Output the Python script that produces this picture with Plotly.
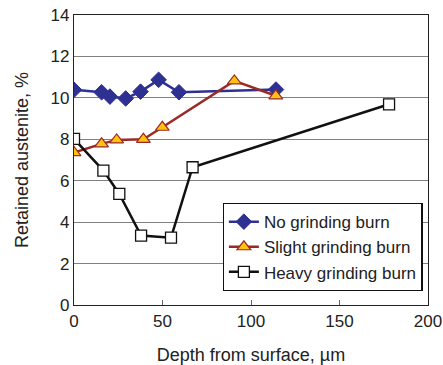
import plotly.graph_objects as go

no_x = [0, 15.6, 20.3, 29.2, 37.6, 47.8, 59.3, 114.1]
no_y = [10.39, 10.27, 10.06, 9.97, 10.3, 10.87, 10.27, 10.4]
sl_x = [0, 15.6, 24.1, 39.2, 49.9, 90.6, 114]
sl_y = [7.36, 7.78, 7.97, 8.0, 8.58, 10.82, 10.1]
hv_x = [0, 16.6, 25.6, 37.9, 54.8, 67, 178]
hv_y = [8.02, 6.49, 5.36, 3.35, 3.25, 6.65, 9.69]

x_ticks = [0, 50, 100, 150, 200]
y_ticks = [0, 2, 4, 6, 8, 10, 12, 14]

font = "Liberation Sans, Arial, sans-serif"
fig = go.Figure()
fig.add_trace(go.Scatter(x=no_x, y=no_y, mode="lines+markers", name="No grinding burn",
                         line=dict(color="#2E3192", width=2.5),
                         marker=dict(symbol="diamond", size=12, color="#2E3192",
                                     line=dict(color="#2E3192", width=1))))
fig.add_trace(go.Scatter(x=sl_x, y=sl_y, mode="lines+markers", name="Slight grinding burn",
                         line=dict(color="#9B2A26", width=2.5),
                         marker=dict(symbol="triangle-up", size=12, color="#FFC20E",
                                     line=dict(color="#9B2A26", width=1.2))))
fig.add_trace(go.Scatter(x=hv_x, y=hv_y, mode="lines+markers", name="Heavy grinding burn",
                         line=dict(color="#111111", width=2.5),
                         marker=dict(symbol="square", size=11, color="white",
                                     line=dict(color="#111111", width=1.3))))

fig.update_layout(
    template="none",
    width=443, height=365,
    margin=dict(l=74, r=15, t=15, b=60, autoexpand=False),
    paper_bgcolor="white", plot_bgcolor="white",
    font=dict(family=font, size=17, color="#222"),
    showlegend=True,
    legend=dict(x=0.985, y=0.352, xanchor="right", yanchor="top",
                bgcolor="white", bordercolor="#111", borderwidth=1.2,
                font=dict(size=17, family=font), tracegroupgap=0,
                itemwidth=30),
    xaxis=dict(range=[0, 200], tickvals=x_ticks, showgrid=False, zeroline=False,
               showline=True, linecolor="#222", linewidth=1.3, mirror=True,
               ticks="inside", ticklen=5, tickcolor="#666", automargin=False,
               tickfont=dict(size=17),
               title=dict(text="Depth from surface, \u00b5m", font=dict(size=18))),
    yaxis=dict(range=[0, 14], tickvals=y_ticks, showgrid=True, gridcolor="#808080",
               gridwidth=1, zeroline=False, showline=True, linecolor="#222",
               linewidth=1.3, mirror=True, ticks="", automargin=False,
               tickfont=dict(size=17),
               title=dict(text="Retained austenite, %", font=dict(size=18))),
)
fig.write_html("out.html")
